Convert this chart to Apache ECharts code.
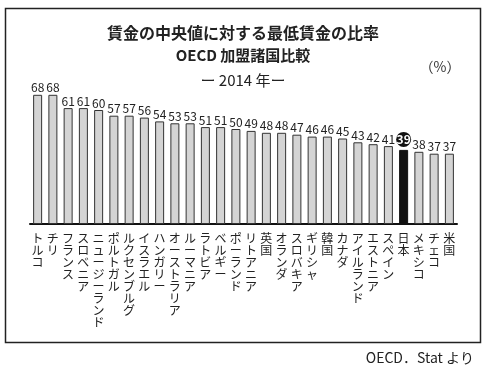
<!DOCTYPE html>
<html><head><meta charset="utf-8">
<script src="https://cdn.jsdelivr.net/npm/echarts@6/dist/echarts.min.js"></script>
<style>html,body{margin:0;padding:0;background:#fff}#c{width:497px;height:372px}</style>
</head><body><div id="c"></div>
<script>
const countries = ['トルコ','チリ','フランス','スロベニア','ニュージーランド','ポルトガル','ルクセンブルグ','イスラエル','ハンガリー','オーストラリア','ルーマニア','ラトビア','ベルギー','ポーランド','リトアニア','英国','オランダ','スロバキア','ギリシャ','韓国','カナダ','アイルランド','エストニア','スペイン','日本','メキシコ','チェコ','米国'];
const ratios = [68,68,61,61,60,57,57,56,54,53,53,51,51,50,49,48,48,47,46,46,45,43,42,41,39,38,37,37];
const highlight = '日本';
const titleLines = ['賃金の中央値に対する最低賃金の比率','OECD 加盟諸国比較','ー 2014 年ー'];
const unitLabel = '（%）';
const sourceLabel = 'OECD．Stat より';

const FONT = '"Noto Sans CJK JP", "Noto Sans", sans-serif';
const chart = echarts.init(document.getElementById('c'));
const data = ratios.map((v,i)=>{
  const hl = countries[i]===highlight;
  return {
    value: v,
    itemStyle: hl ? {color:'#111', borderColor:'#111'} : undefined,
    label: hl ? {formatter:'{c|{c}}', distance: 3} : undefined
  };
});
chart.setOption({
  animation:false,
  textStyle:{fontFamily:FONT},
  graphic:[
    {type:'rect', shape:{x:5.5,y:8.5,width:475,height:334}, style:{fill:'none', stroke:'#222', lineWidth:1.5}, z:-1},
    {type:'text', style:{text:titleLines[0], x:243, y:33, align:'center', verticalAlign:'middle', font:'bold 16px '+FONT, fill:'#222'}},
    {type:'text', style:{text:titleLines[1], x:243, y:55, align:'center', verticalAlign:'middle', font:'bold 15px '+FONT, fill:'#222'}},
    {type:'text', style:{text:titleLines[2], x:243, y:80, align:'center', verticalAlign:'middle', font:'15px '+FONT, fill:'#222'}},
    {type:'text', style:{text:unitLabel, x:440, y:67, align:'center', verticalAlign:'middle', font:'14px '+FONT, fill:'#333'}},
    {type:'text', style:{text:sourceLabel, x:474, y:358, align:'right', verticalAlign:'middle', font:'14px '+FONT, fill:'#222'}}
  ],
  grid:{left:30, right:40, top:91, bottom:148, containLabel:false},
  xAxis:{
    type:'category', data:countries,
    axisLine:{lineStyle:{color:'#111', width:2}},
    axisTick:{show:false},
    axisLabel:{interval:0, margin:8, fontSize:12, lineHeight:12, color:'#222', fontFamily:FONT,
      formatter:v=>v.split('').join('\n'), verticalAlign:'top'}
  },
  yAxis:{type:'value', min:0, max:70, show:false, splitLine:{show:false}},
  series:[{
    type:'bar', data:data, barWidth:9,
    itemStyle:{color:'#d4d4d4', borderColor:'#333', borderWidth:1},
    label:{show:true, position:'top', distance:1, fontSize:12, color:'#222', fontFamily:FONT,
      rich:{c:{backgroundColor:'#111', color:'#fff', fontWeight:'bold', fontSize:12, width:15, height:15, lineHeight:15, borderRadius:8, align:'center'}}}
  }]
});
</script></body></html>
